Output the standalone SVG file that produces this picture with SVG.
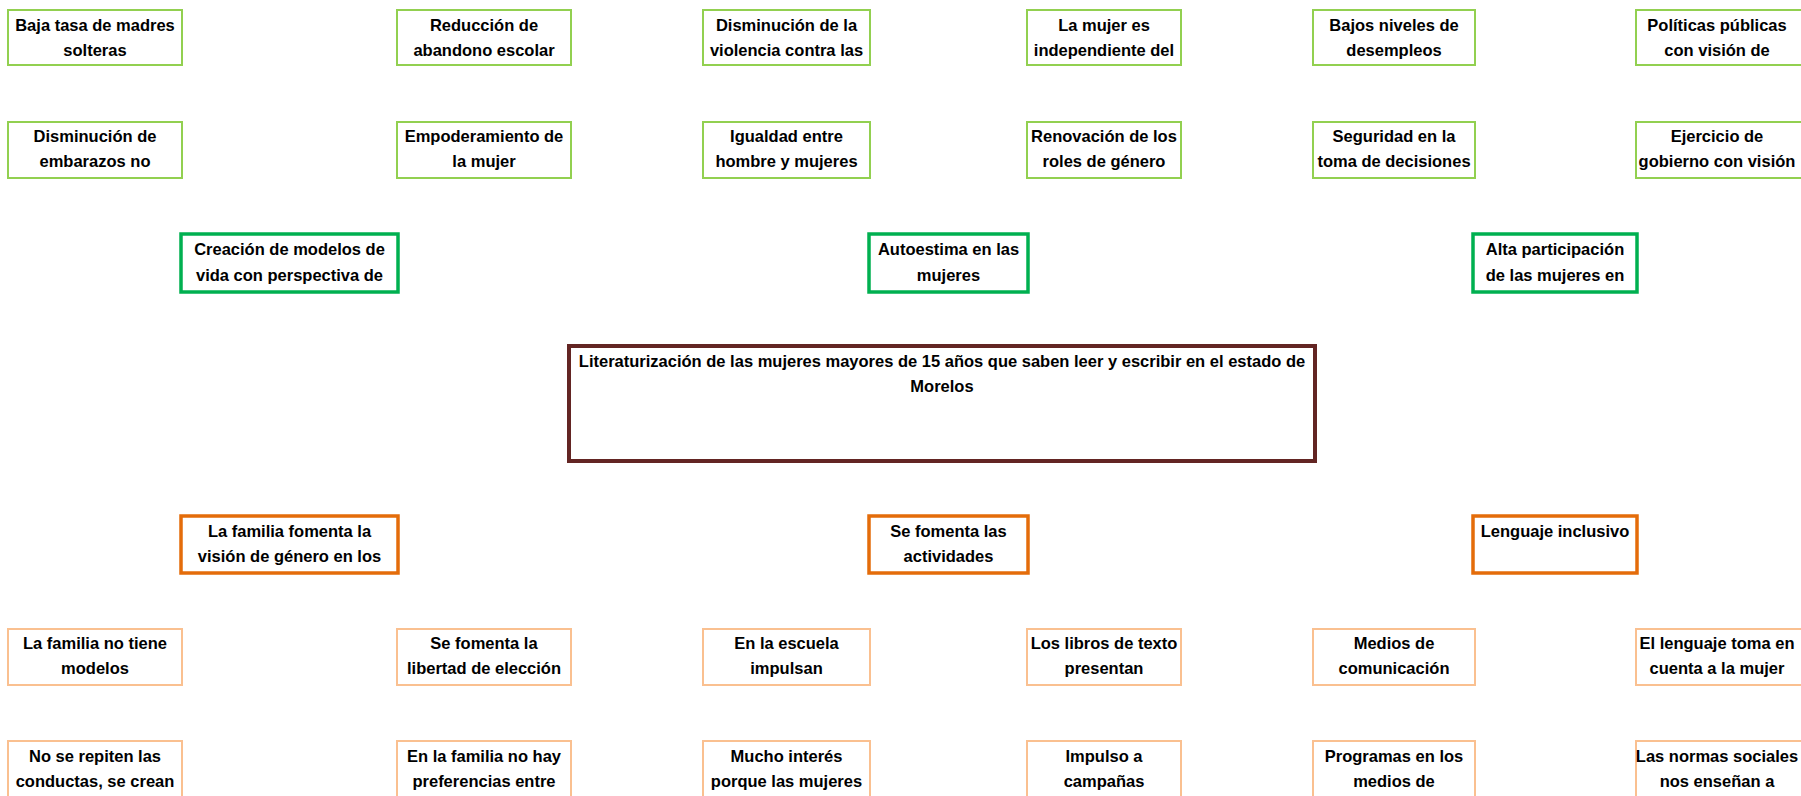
<svg xmlns="http://www.w3.org/2000/svg" width="1801" height="796" viewBox="0 0 1801 796">
<style>
text{font-family:"Liberation Sans",Arial,sans-serif;font-weight:bold;font-size:16.5px;fill:#000;text-anchor:middle}
rect{fill:#fff}
.lg{stroke:#92D050;stroke-width:2}
.g{stroke:#00B050;stroke-width:3.5}
.c{stroke:#632523;stroke-width:4}
.o{stroke:#E46C0A;stroke-width:3.5}
.lo{stroke:#FAC090;stroke-width:2}
</style>
<rect x="0" y="0" width="1801" height="796" fill="#fff"/>
<g id="connectors"></g>

<!-- Row 1 -->
<g id="n-baja-tasa"><rect class="lg" x="8" y="10" width="174" height="55"/><text x="95" y="31">Baja tasa de madres</text><text x="95" y="56">solteras</text></g>
<g id="n-reduccion"><rect class="lg" x="397" y="10" width="174" height="55"/><text x="484" y="31">Reducción de</text><text x="484" y="56">abandono escolar</text></g>
<g id="n-disminucion-violencia"><rect class="lg" x="703" y="10" width="167" height="55"/><text x="786.5" y="31">Disminución de la</text><text x="786.5" y="56">violencia contra las</text></g>
<g id="n-mujer-independiente"><rect class="lg" x="1027" y="10" width="154" height="55"/><text x="1104" y="31">La mujer es</text><text x="1104" y="56">independiente del</text></g>
<g id="n-bajos-niveles"><rect class="lg" x="1313" y="10" width="162" height="55"/><text x="1394" y="31">Bajos niveles de</text><text x="1394" y="56">desempleos</text></g>
<g id="n-politicas"><rect class="lg" x="1636" y="10" width="180" height="55"/><text x="1717" y="31">Políticas públicas</text><text x="1717" y="56">con visión de</text></g>

<!-- Row 2 -->
<g id="n-disminucion-embarazos"><rect class="lg" x="8" y="122" width="174" height="56"/><text x="95" y="142">Disminución de</text><text x="95" y="167">embarazos no</text></g>
<g id="n-empoderamiento"><rect class="lg" x="397" y="122" width="174" height="56"/><text x="484" y="142">Empoderamiento de</text><text x="484" y="167">la mujer</text></g>
<g id="n-igualdad"><rect class="lg" x="703" y="122" width="167" height="56"/><text x="786.5" y="142">Igualdad entre</text><text x="786.5" y="167">hombre y mujeres</text></g>
<g id="n-renovacion"><rect class="lg" x="1027" y="122" width="154" height="56"/><text x="1104" y="142">Renovación de los</text><text x="1104" y="167">roles de género</text></g>
<g id="n-seguridad"><rect class="lg" x="1313" y="122" width="162" height="56"/><text x="1394" y="142">Seguridad en la</text><text x="1394" y="167">toma de decisiones</text></g>
<g id="n-ejercicio"><rect class="lg" x="1636" y="122" width="180" height="56"/><text x="1717" y="142">Ejercicio de</text><text x="1717" y="167">gobierno con visión</text></g>

<!-- Effects (green) -->
<g id="n-creacion"><rect class="g" x="181" y="234" width="217" height="58"/><text x="289.5" y="255">Creación de modelos de</text><text x="289.5" y="281">vida con perspectiva de</text></g>
<g id="n-autoestima"><rect class="g" x="869" y="234" width="159" height="58"/><text x="948.5" y="255">Autoestima en las</text><text x="948.5" y="281">mujeres</text></g>
<g id="n-alta-participacion"><rect class="g" x="1473" y="234" width="164" height="58"/><text x="1555" y="255">Alta participación</text><text x="1555" y="281">de las mujeres en</text></g>

<!-- Central problem -->
<g id="n-central"><rect class="c" x="569" y="346" width="746" height="115"/><text x="942" y="367">Literaturización de las mujeres mayores de 15 años que saben leer y escribir en el estado de</text><text x="942" y="392">Morelos</text></g>

<!-- Causes (orange) -->
<g id="n-familia-fomenta"><rect class="o" x="181" y="516" width="217" height="57"/><text x="289.5" y="537">La familia fomenta la</text><text x="289.5" y="562">visión de género en los</text></g>
<g id="n-se-fomenta-actividades"><rect class="o" x="869" y="516" width="159" height="57"/><text x="948.5" y="537">Se fomenta las</text><text x="948.5" y="562">actividades</text></g>
<g id="n-lenguaje-inclusivo"><rect class="o" x="1473" y="516" width="164" height="57"/><text x="1555" y="537">Lenguaje inclusivo</text></g>

<!-- Row 5 -->
<g id="n-familia-no-tiene"><rect class="lo" x="8" y="629" width="174" height="56"/><text x="95" y="649">La familia no tiene</text><text x="95" y="674">modelos</text></g>
<g id="n-libertad"><rect class="lo" x="397" y="629" width="174" height="56"/><text x="484" y="649">Se fomenta la</text><text x="484" y="674">libertad de elección</text></g>
<g id="n-escuela"><rect class="lo" x="703" y="629" width="167" height="56"/><text x="786.5" y="649">En la escuela</text><text x="786.5" y="674">impulsan</text></g>
<g id="n-libros"><rect class="lo" x="1027" y="629" width="154" height="56"/><text x="1104" y="649">Los libros de texto</text><text x="1104" y="674">presentan</text></g>
<g id="n-medios"><rect class="lo" x="1313" y="629" width="162" height="56"/><text x="1394" y="649">Medios de</text><text x="1394" y="674">comunicación</text></g>
<g id="n-lenguaje-toma"><rect class="lo" x="1636" y="629" width="180" height="56"/><text x="1717" y="649">El lenguaje toma en</text><text x="1717" y="674">cuenta a la mujer</text></g>

<!-- Row 6 -->
<g id="n-no-repiten"><rect class="lo" x="8" y="741" width="174" height="60"/><text x="95" y="762">No se repiten las</text><text x="95" y="787">conductas, se crean</text></g>
<g id="n-familia-no-hay"><rect class="lo" x="397" y="741" width="174" height="60"/><text x="484" y="762">En la familia no hay</text><text x="484" y="787">preferencias entre</text></g>
<g id="n-mucho-interes"><rect class="lo" x="703" y="741" width="167" height="60"/><text x="786.5" y="762">Mucho interés</text><text x="786.5" y="787">porque las mujeres</text></g>
<g id="n-impulso"><rect class="lo" x="1027" y="741" width="154" height="60"/><text x="1104" y="762">Impulso a</text><text x="1104" y="787">campañas</text></g>
<g id="n-programas"><rect class="lo" x="1313" y="741" width="162" height="60"/><text x="1394" y="762">Programas en los</text><text x="1394" y="787">medios de</text></g>
<g id="n-normas"><rect class="lo" x="1636" y="741" width="180" height="60"/><text x="1717" y="762">Las normas sociales</text><text x="1717" y="787">nos enseñan a</text></g>
</svg>
